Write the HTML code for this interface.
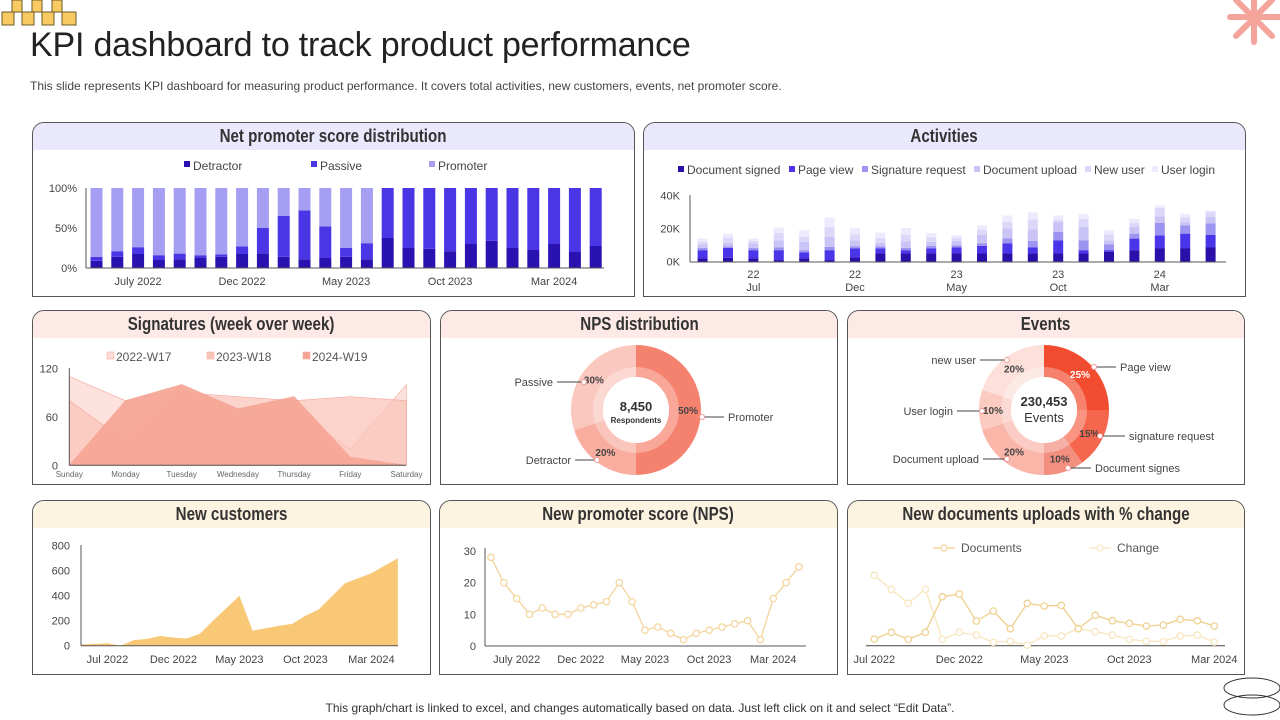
<!DOCTYPE html>
<html><head><meta charset="utf-8"><title>KPI dashboard</title>
<style>
*{margin:0;padding:0;box-sizing:border-box}
body{width:1280px;height:720px;background:#fff;position:relative;overflow:hidden;font-family:"Liberation Sans",sans-serif;color:#333}
.panel{position:absolute;border:1px solid #555;border-radius:12px 12px 0 0;overflow:hidden;background:#fff}
.hdr{height:27px;text-align:center;font-family:"Liberation Sans Narrow","Liberation Sans",sans-serif;font-weight:bold;font-size:18px;line-height:27px;color:#333;white-space:nowrap}
.hdr span{display:inline-block;transform:scaleX(0.84)}
.lav{background:#eae8fc}.pink{background:#fdeae7}.cream{background:#fdf3e1}
#title{position:absolute;left:30px;top:26px;font-size:34px;color:#222;letter-spacing:-0.2px}
#sub{position:absolute;left:30px;top:79px;font-size:12px;color:#444}
#foot{position:absolute;left:0;width:1280px;top:701px;text-align:center;font-size:12px;color:#333}
svg#charts{position:absolute;left:0;top:0}
</style></head><body>
<div id="title">KPI dashboard to track product performance</div>
<div id="sub">This slide represents KPI dashboard for measuring product performance. It covers total activities, new customers, events, net promoter score.</div>

<div class="panel" style="left:32px;top:122px;width:603px;height:175px"><div class="hdr lav"><span>Net promoter score distribution</span></div></div>
<div class="panel" style="left:643px;top:122px;width:603px;height:175px"><div class="hdr lav"><span>Activities</span></div></div>
<div class="panel" style="left:32px;top:310px;width:399px;height:175px"><div class="hdr pink"><span>Signatures (week over week)</span></div></div>
<div class="panel" style="left:440px;top:310px;width:398px;height:175px"><div class="hdr pink"><span>NPS distribution</span></div></div>
<div class="panel" style="left:847px;top:310px;width:398px;height:175px"><div class="hdr pink"><span>Events</span></div></div>
<div class="panel" style="left:32px;top:500px;width:399px;height:175px"><div class="hdr cream"><span>New customers</span></div></div>
<div class="panel" style="left:439px;top:500px;width:399px;height:175px"><div class="hdr cream"><span>New promoter score (NPS)</span></div></div>
<div class="panel" style="left:847px;top:500px;width:398px;height:175px"><div class="hdr cream"><span>New documents uploads with % change</span></div></div>

<div id="foot">This graph/chart is linked to excel, and changes automatically based on data. Just left click on it and select “Edit Data”.</div>

<svg id="charts" width="1280" height="720" xmlns="http://www.w3.org/2000/svg">
<g fill="#f9c962" stroke="#6b5a2a" stroke-width="1">
<rect x="2" y="12" width="12" height="13"/><rect x="22" y="12" width="12" height="13"/><rect x="42" y="12" width="12" height="13"/><rect x="62" y="12" width="14" height="13"/>
<rect x="12" y="0" width="10" height="12"/><rect x="32" y="0" width="10" height="12"/><rect x="52" y="0" width="10" height="12"/>
</g>
<g stroke="#f4a49a" stroke-width="6" stroke-linecap="round">
<line x1="1254" y1="-8" x2="1254" y2="42"/><line x1="1230" y1="17" x2="1280" y2="17"/><line x1="1236" y1="0" x2="1272" y2="36"/><line x1="1236" y1="36" x2="1272" y2="0"/>
</g>
<g fill="none" stroke="#333" stroke-width="1">
<ellipse cx="1252" cy="688" rx="28" ry="10"/><ellipse cx="1252" cy="705" rx="28" ry="10"/>
</g>
</svg>

<script>
// ---------- DATA ----------
const npsTickLabels = ['July 2022','Dec 2022','May 2023','Oct 2023','Mar 2024'];
const npsTickIdx = [2,7,12,17,22];
const npsDetractor = [9,14,17.5,10,11,13,14,17.5,18,14,11,12.5,14,11,37.5,25,24,21,30,34,25,22.5,30,20,27.5];
const npsPassive = [5,7,8.5,6,7,3,3,9.5,32,51,61,39.5,11,20,62.5,75,76,79,70,66,75,77.5,70,80,72.5];

const actSeriesNames = ['Document signed','Page view','Signature request','Document upload','New user','User login'];
const actDocSigned = [2,2.4,2,1,2,1,2.6,5,5,5,5,5,5,5,5,5,6,7,8,8,8.6];
const actPageView = [5,6,5,6,3.6,6,5.4,3,2,3,3.6,4.6,6.2,3.6,8,2,1,7,8,9,7.6];
const actSigReq = [1.4,1,1.4,1.6,1.4,2,1.4,1.4,1.4,1.6,1.4,1.6,3,4,5,6,3.6,3,7.6,5,7];
const actUpload = [2.2,2,2.6,4.4,5,6,3.6,2,4,2.4,2.6,5,6,7,6,8,2.4,4,4,2,4];
const actNewUser = [1.4,3.2,1.6,4.4,3,6,3.6,3,4,2.8,1.8,3,4,6,1.4,5,3.6,2.4,5,3,3];
const actLogin = [2,2.4,1.4,3.2,4,5.8,4,3.2,4,2.6,1.6,2.8,3.8,4.2,2.6,3,2.4,2.6,1.4,2,0.8];
const actTickTop = ['22','22','23','23','24'];
const actTickBottom = ['Jul','Dec','May','Oct','Mar'];
const actTickIdx = [2,6,10,14,18];

const sigDays = ['Sunday','Monday','Tuesday','Wednesday','Thursday','Friday','Saturday'];
const sigW17 = [110,80,95,60,70,20,100];
const sigW18 = [80,30,90,85,80,85,80];
const sigW19 = [0,80,100,70,85,10,0];
const sigTicks = [0,60,120];

const npsDonutLabels = ['Promoter','Detractor','Passive'];
const npsDonutValues = [50,20,30];

const evLabels = ['Page view','signature request','Document signes','Document upload','User login','new user'];
const evValues = [25,15,10,20,10,20];

const custValues = [10,15,20,0,45,55,78,65,58,95,200,300,400,120,140,160,175,240,290,395,500,540,580,640,700];
const custTicks = [0,200,400,600,800];
const custTickLabels = ['Jul  2022','Dec 2022','May 2023','Oct 2023','Mar 2024'];
const custTickIdx = [2,7,12,17,22];

const npsLineValues = [28,20,15,10,12,10,10,12,13,14,20,14,5,6,4,2,4,5,6,7,8,2,15,20,25];
const npsLineTicks = [0,10,20,30];
const npsLineTickLabels = ['July 2022','Dec  2022','May 2023','Oct 2023','Mar 2024'];
const npsLineTickIdx = [2,7,12,17,22];

const docValues = [10,20,9.5,20,73.5,77.5,37,52,25.5,63.5,59.5,60.5,25.5,45.5,37.5,33.5,29.5,31,39.5,37.5,29.5];
const docChange = [105.5,84.5,63.5,84.5,9.5,20,16,5,6.5,1,15,14.5,25.5,21,16,9.5,6.5,6.5,14.5,16,5.5];
const docTickLabels = ['Jul 2022','Dec 2022','May 2023','Oct 2023','Mar 2024'];
const docTickIdx = [0,5,10,15,20];

// ---------- HELPERS ----------
const svg = document.getElementById('charts');
const NS = 'http://www.w3.org/2000/svg';
function mk(tag, attrs, parent){
  const e = document.createElementNS(NS, tag);
  for (const k in attrs) e.setAttribute(k, attrs[k]);
  (parent||svg).appendChild(e);
  return e;
}
function txt(s, x, y, size, anchor, fill, parent, weight){
  const t = mk('text', {x:x, y:y, 'font-size':size, 'text-anchor':anchor||'start', fill:fill||'#444', 'font-family':'Liberation Sans, sans-serif', 'font-weight':weight||'normal'}, parent);
  t.textContent = s;
  return t;
}
function grp(){ return mk('g', {}); }

// ---------- CHART 1: NPS stacked ----------
(function(){
  const g = grp();
  
  
  const x = i => 96.5 + i*20.8;
  const y = v => 268 - v*0.8;
  const cols = ['#2a12b0','#4b36e6','#a59ef2'];
  [0,50,100].forEach(v=>{
    const t = txt(v+'%', 77, y(v)+4, 11, 'end', '#444', g);
    
    
  });
  npsDetractor.forEach((d,i)=>{
    const p = npsPassive[i];
    const segs = [[0,d],[d,d+p],[d+p,100]];
    segs.forEach((s,k)=>{
      if (s[1]-s[0] <= 0) return;
      const r = mk('rect', {x:x(i)-6, y:y(s[1]), width:12, height:y(s[0])-y(s[1]), fill:cols[k]}, g);
      
      
    });
  });
  mk('line', {x1:86, y1:188, x2:86, y2:268, stroke:'#555'}, g);
  mk('line', {x1:86, y1:268, x2:604, y2:268, stroke:'#555'}, g);
  npsTickIdx.forEach((idx,k)=>{
    const t = txt(npsTickLabels[k], x(idx), 285, 11, 'middle', '#444', g);
    
    
  });
  const leg = [['Detractor',184],['Passive',311],['Promoter',429]];
  leg.forEach((l,k)=>{
    const r = mk('rect', {x:l[1], y:161, width:6, height:6, fill:cols[k]}, g);
    
    
    const t = txt(l[0], l[1]+9, 170, 12, 'start', '#444', g);
    
    
  });
})();

// ---------- CHART 2: Activities ----------
(function(){
  const g = grp();
  
  
  const x = i => 702.6 + i*25.4;
  const y = v => 261.7 - v*1.65;
  const series = [actDocSigned, actPageView, actSigReq, actUpload, actNewUser, actLogin];
  const cols = ['#2a0fa8','#4a35e8','#9d93f0','#c9c3f6','#dcd8f9','#eceafc'];
  [0,20,40].forEach(v=>{
    const t = txt(v+'K', 680, y(v)+4, 11, 'end', '#444', g);
    
    
  });
  actDocSigned.forEach((_,i)=>{
    let base = 0;
    series.forEach((s,k)=>{
      const r = mk('rect', {x:x(i)-5, y:y(base+s[i]), width:10, height:y(base)-y(base+s[i]), fill:cols[k]}, g);
      
      
      base += s[i];
    });
  });
  mk('line', {x1:690, y1:195, x2:690, y2:262, stroke:'#555'}, g);
  mk('line', {x1:690, y1:262, x2:1226, y2:262, stroke:'#555'}, g);
  actTickIdx.forEach((idx,k)=>{
    const t1 = txt(actTickTop[k], x(idx), 278, 11, 'middle', '#444', g);
    
    
    const t2 = txt(actTickBottom[k], x(idx), 291, 11, 'middle', '#444', g);
    
    
  });
  const legX = [678,789,862,974,1085,1152];
  actSeriesNames.forEach((n,k)=>{
    const r = mk('rect', {x:legX[k], y:166, width:6, height:6, fill:cols[k]}, g);
    
    
    const t = txt(n, legX[k]+9, 174, 12, 'start', '#444', g);
    
    
  });
})();

// ---------- CHART 3: Signatures ----------
(function(){
  const g = grp();
  
  
  const x = i => 69.3 + i*56.2;
  const y = v => 465.3 - v*0.808;
  const series = [sigW17, sigW18, sigW19];
  const cols = ['#fcdcd6','#f9c4ba','#f6a493'];
  const ops = [0.85,0.75,0.9];
  series.forEach((s,k)=>{
    let d = 'M'+x(0)+','+y(0);
    s.forEach((v,i)=>{ d += ' L'+x(i)+','+y(v); });
    d += ' L'+x(s.length-1)+','+y(0)+' Z';
    const p = mk('path', {d:d, fill:cols[k], 'fill-opacity':ops[k], stroke:'#f3a698', 'stroke-width':0.6}, g);
    
    
  });
  sigTicks.forEach(v=>{
    const t = txt(String(v), 58, y(v)+4, 11, 'end', '#444', g);
    
    
  });
  mk('line', {x1:69.3, y1:368, x2:69.3, y2:465.3, stroke:'#555'}, g);
  mk('line', {x1:69.3, y1:465.3, x2:406, y2:465.3, stroke:'#555'}, g);
  sigDays.forEach((d,i)=>{
    const t = txt(d, x(i), 477, 8, 'middle', '#666', g);
    
    
  });
  const leg = [['2022-W17',107],['2023-W18',207],['2024-W19',303]];
  leg.forEach((l,k)=>{
    const r = mk('rect', {x:l[1], y:352, width:7, height:7, fill:cols[k], stroke:'#f3b0a4', 'stroke-width':0.6}, g);
    
    
    const t = txt(l[0], l[1]+9, 361, 12, 'start', '#555', g);
    
    
  });
})();

// ---------- DONUT helper ----------
function arc(cx, cy, r0, r1, a0, a1){
  const p = (r,a)=>[cx + r*Math.sin(a), cy - r*Math.cos(a)];
  const large = (a1-a0) > Math.PI ? 1 : 0;
  const [x0,y0]=p(r1,a0),[x1,y1]=p(r1,a1),[x2,y2]=p(r0,a1),[x3,y3]=p(r0,a0);
  return `M${x0},${y0} A${r1},${r1} 0 ${large} 1 ${x1},${y1} L${x2},${y2} A${r0},${r0} 0 ${large} 0 ${x3},${y3} Z`;
}

// ---------- CHART 4: NPS donut ----------
(function(){
  const g = grp();
  
  
  const cx = 636, cy = 410;
  const cols = ['#f5826e','#f8ad9e','#fbc8bf'];
  const total = npsDonutValues.reduce((a,b)=>a+b,0);
  let a = 0;
  const mids = [];
  npsDonutValues.forEach((v,k)=>{
    const a1 = a + v/total*2*Math.PI;
    const p = mk('path', {d:arc(cx,cy,33,65,a,a1), fill:cols[k]}, g);
    
    
    mids.push((a+a1)/2);
    a = a1;
  });
  mk('circle', {cx:cx, cy:cy, r:43, fill:'#fff', 'fill-opacity':0.3}, g);
  mk('circle', {cx:cx, cy:cy, r:33, fill:'#fff'}, g);
  const c1 = txt('8,450', cx, 411, 13, 'middle', '#333', g, 'bold');
  
  
  const c2 = txt('Respondents', cx, 423, 8, 'middle', '#333', g, 'bold');
  
  
  mids.forEach((m,k)=>{
    const lx = cx + 52*Math.sin(m), ly = cy - 52*Math.cos(m);
    const t = txt(npsDonutValues[k]+'%', lx, ly+4, 10, 'middle', '#444', g, 'bold');
    
    
  });
  const pts = [[702,417,728,'start'],[597,460,571,'end'],[584,382,553,'end']];
  pts.forEach((q,k)=>{
    mk('line', {x1:q[0], y1:q[1], x2:q[2] + (q[3]==='start'?-4:4), y2:q[1], stroke:'#444'}, g);
    mk('circle', {cx:q[0], cy:q[1], r:2.5, fill:'#fff', stroke:'#e99'}, g);
    const t = txt(npsDonutLabels[k], q[2], q[1]+4, 11, q[3], '#444', g);
    
    
  });
})();

// ---------- CHART 5: Events donut ----------
(function(){
  const g = grp();
  
  
  const cx = 1044, cy = 410;
  const cols = ['#f24c30','#f6664d','#f38f7e','#f9b6a9','#fbcbc2','#fde0da'];
  const total = evValues.reduce((a,b)=>a+b,0);
  let a = 0;
  const mids = [];
  evValues.forEach((v,k)=>{
    const a1 = a + v/total*2*Math.PI;
    const p = mk('path', {d:arc(cx,cy,33,65,a,a1), fill:cols[k]}, g);
    
    
    mids.push((a+a1)/2);
    a = a1;
  });
  mk('circle', {cx:cx, cy:cy, r:43, fill:'#fff', 'fill-opacity':0.3}, g);
  mk('circle', {cx:cx, cy:cy, r:33, fill:'#fff'}, g);
  const c1 = txt('230,453', cx, 406, 13, 'middle', '#333', g, 'bold');
  
  
  const c2 = txt('Events', cx, 422, 13, 'middle', '#333', g);
  
  
  mids.forEach((m,k)=>{
    const lx = cx + 51*Math.sin(m), ly = cy - 51*Math.cos(m);
    const t = txt(evValues[k]+'%', lx, ly+4, 10, 'middle', k===0?'#fff':'#444', g, 'bold');
    
    
  });
  const pts = [[1094,367,1120,'start'],[1100,436,1129,'start'],[1068,468,1095,'start'],[1007,459,979,'end'],[982,411,953,'end'],[1007,360,976,'end']];
  pts.forEach((q,k)=>{
    mk('line', {x1:q[0], y1:q[1], x2:q[2] + (q[3]==='start'?-4:4), y2:q[1], stroke:'#444'}, g);
    mk('circle', {cx:q[0], cy:q[1], r:2.5, fill:'#fff', stroke:'#e99'}, g);
    const t = txt(evLabels[k], q[2], q[1]+4, 11, q[3], '#444', g);
    
    
  });
})();

// ---------- CHART 6: New customers ----------
(function(){
  const g = grp();
  
  
  const x = i => 81 + i*13.2;
  const y = v => 645.7 - v*0.125;
  let d = 'M'+x(0)+','+y(0);
  custValues.forEach((v,i)=>{ d += ' L'+x(i)+','+y(v); });
  d += ' L'+x(custValues.length-1)+','+y(0)+' Z';
  const p = mk('path', {d:d, fill:'#f8c877'}, g);
  
  
  custTicks.forEach(v=>{
    const t = txt(String(v), 70, y(v)+4, 11, 'end', '#444', g);
    
    
  });
  mk('line', {x1:81, y1:545, x2:81, y2:645.7, stroke:'#555'}, g);
  mk('line', {x1:81, y1:645.7, x2:398, y2:645.7, stroke:'#555'}, g);
  custTickIdx.forEach((idx,k)=>{
    const t = txt(custTickLabels[k], x(idx), 663, 11, 'middle', '#444', g);
    
    
  });
})();

// ---------- CHART 7: NPS line ----------
(function(){
  const g = grp();
  
  
  const x = i => 491 + i*12.83;
  const y = v => 646 - v*3.167;
  npsLineTicks.forEach(v=>{
    const t = txt(String(v), 476, y(v)+4, 11, 'end', '#444', g);
    
    
  });
  mk('line', {x1:485, y1:548, x2:485, y2:646, stroke:'#555'}, g);
  mk('line', {x1:485, y1:646, x2:806, y2:646, stroke:'#555'}, g);
  const pts = npsLineValues.map((v,i)=>x(i)+','+y(v)).join(' ');
  const pl = mk('polyline', {points:pts, fill:'none', stroke:'#f3d49a', 'stroke-width':1.3}, g);
  
  
  npsLineValues.forEach((v,i)=>{
    const c = mk('circle', {cx:x(i), cy:y(v), r:3.2, fill:'#fff', stroke:'#f3d49a', 'stroke-width':1.2}, g);
    
    
  });
  npsLineTickIdx.forEach((idx,k)=>{
    const t = txt(npsLineTickLabels[k], x(idx), 663, 11, 'middle', '#444', g);
    
    
  });
})();

// ---------- CHART 8: Documents ----------
(function(){
  const g = grp();
  
  
  const x = i => 874.3 + i*17;
  const y = v => 645.7 - v*0.667;
  mk('line', {x1:866, y1:645.7, x2:1225, y2:645.7, stroke:'#444'}, g);
  const series = [[docChange,'#f8e5bd'],[docValues,'#efcf8c']];
  series.forEach(s=>{
    const pts = s[0].map((v,i)=>x(i)+','+y(v)).join(' ');
    const pl = mk('polyline', {points:pts, fill:'none', stroke:s[1], 'stroke-width':1.3}, g);
    
    
    s[0].forEach((v,i)=>{
      const c = mk('circle', {cx:x(i), cy:y(v), r:3.2, fill:'#fff', stroke:s[1], 'stroke-width':1.2}, g);
      
      
    });
  });
  docTickIdx.forEach((idx,k)=>{
    const t = txt(docTickLabels[k], x(idx), 663, 11, 'middle', '#444', g);
    
    
  });
  const leg = [['Documents',933,'#efcf8c'],['Change',1089,'#f8e5bd']];
  leg.forEach(l=>{
    mk('line', {x1:l[1], y1:548, x2:l[1]+22, y2:548, stroke:l[2], 'stroke-width':1.3}, g);
    mk('circle', {cx:l[1]+11, cy:548, r:3, fill:'#fff', stroke:l[2]}, g);
    const t = txt(l[0], l[1]+28, 552, 12, 'start', '#555', g);
    
    
  });
})();
</script>
</body></html>
